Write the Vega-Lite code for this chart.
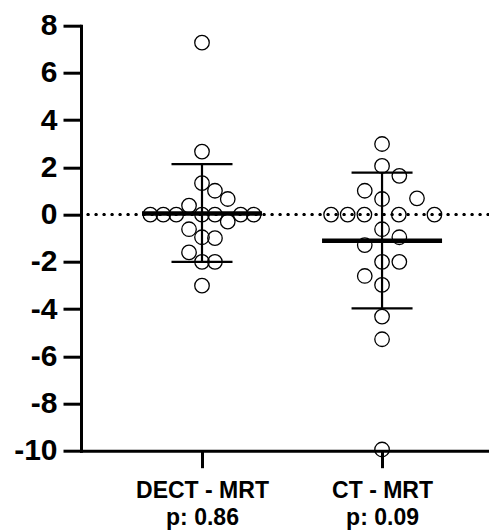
{
  "$schema": "https://vega.github.io/schema/vega-lite/v6.json",
  "width": 408,
  "height": 425,
  "autosize": "none",
  "padding": {"left": 81, "top": 25.7, "right": 0, "bottom": 79.3},
  "background": "white",
  "config": {
    "view": {"stroke": null},
    "axis": {
      "domainColor": "black",
      "domainWidth": 3,
      "domainCap": "square",
      "tickColor": "black",
      "tickWidth": 3,
      "labelColor": "black",
      "labelFont": "Liberation Sans",
      "labelFontWeight": "bold",
      "grid": false,
      "title": null
    }
  },
  "datasets": {
    "pts": [
      {"group": "DECT - MRT", "x": 1.0, "value": 7.28},
      {"group": "DECT - MRT", "x": 1.0, "value": 2.67},
      {"group": "DECT - MRT", "x": 1.0, "value": 1.33},
      {"group": "DECT - MRT", "x": 1.072, "value": 1.01},
      {"group": "DECT - MRT", "x": 1.143, "value": 0.66},
      {"group": "DECT - MRT", "x": 0.928, "value": 0.38},
      {"group": "DECT - MRT", "x": 0.713, "value": 0},
      {"group": "DECT - MRT", "x": 0.785, "value": 0},
      {"group": "DECT - MRT", "x": 0.857, "value": 0},
      {"group": "DECT - MRT", "x": 1.0, "value": 0},
      {"group": "DECT - MRT", "x": 1.072, "value": 0},
      {"group": "DECT - MRT", "x": 1.215, "value": 0},
      {"group": "DECT - MRT", "x": 1.287, "value": 0},
      {"group": "DECT - MRT", "x": 1.143, "value": -0.3},
      {"group": "DECT - MRT", "x": 0.928, "value": -0.62},
      {"group": "DECT - MRT", "x": 1.0, "value": -0.96},
      {"group": "DECT - MRT", "x": 1.072, "value": -1.0},
      {"group": "DECT - MRT", "x": 0.928, "value": -1.6},
      {"group": "DECT - MRT", "x": 1.0, "value": -2.0},
      {"group": "DECT - MRT", "x": 1.072, "value": -2.0},
      {"group": "DECT - MRT", "x": 1.0, "value": -3.01},
      {"group": "CT - MRT", "x": 2.0, "value": 2.99},
      {"group": "CT - MRT", "x": 2.0, "value": 2.06},
      {"group": "CT - MRT", "x": 2.096, "value": 1.64},
      {"group": "CT - MRT", "x": 1.904, "value": 1.01},
      {"group": "CT - MRT", "x": 2.194, "value": 0.69},
      {"group": "CT - MRT", "x": 2.0, "value": 0.66},
      {"group": "CT - MRT", "x": 1.717, "value": 0},
      {"group": "CT - MRT", "x": 1.809, "value": 0},
      {"group": "CT - MRT", "x": 1.902, "value": 0},
      {"group": "CT - MRT", "x": 2.093, "value": 0},
      {"group": "CT - MRT", "x": 2.291, "value": 0},
      {"group": "CT - MRT", "x": 2.0, "value": -0.62},
      {"group": "CT - MRT", "x": 2.096, "value": -0.96},
      {"group": "CT - MRT", "x": 1.904, "value": -1.29},
      {"group": "CT - MRT", "x": 2.0, "value": -2.0},
      {"group": "CT - MRT", "x": 2.096, "value": -2.0},
      {"group": "CT - MRT", "x": 1.904, "value": -2.6},
      {"group": "CT - MRT", "x": 2.0, "value": -2.98},
      {"group": "CT - MRT", "x": 2.0, "value": -4.32},
      {"group": "CT - MRT", "x": 2.0, "value": -5.28},
      {"group": "CT - MRT", "x": 2.0, "value": -9.95}
    ],
    "stats": [
      {"group": "DECT - MRT", "x": 1, "mean": 0.05, "lo": -2.0, "hi": 2.14},
      {"group": "CT - MRT", "x": 2, "mean": -1.11, "lo": -3.97, "hi": 1.78}
    ]
  },
  "layer": [
    {
      "data": {"name": "stats"},
      "mark": {"type": "rule", "color": "black", "strokeWidth": 3, "strokeDash": [0.1, 7.9], "strokeCap": "round"},
      "encoding": {
        "y": {"datum": 0, "type": "quantitative"},
        "x": {"datum": 0.367, "type": "quantitative"},
        "x2": {"datum": 2.594}
      }
    },
    {
      "data": {"name": "pts"},
      "mark": {"type": "point", "shape": "circle", "filled": false, "stroke": "black", "strokeWidth": 1.3, "size": 210, "opacity": 1},
      "encoding": {
        "x": {
          "field": "x",
          "type": "quantitative",
          "scale": {"domain": [0.328, 2.594], "nice": false, "zero": false},
          "axis": {
            "values": [1, 2],
            "labelExpr": "datum.value == 1 ? ['DECT - MRT', 'p: 0.86'] : ['CT - MRT', 'p: 0.09']",
            "labelFontSize": 23,
            "labelLineHeight": 27,
            "labelPadding": 12,
            "tickSize": 17,
            "labelFlush": false,
            "labelOverlap": false
          }
        },
        "y": {
          "field": "value",
          "type": "quantitative",
          "scale": {"domain": [-10, 8], "nice": false, "zero": false},
          "axis": {
            "values": [-10, -8, -6, -4, -2, 0, 2, 4, 6, 8],
            "labelExpr": "'' + datum.value",
            "labelFontSize": 30,
            "labelPadding": 6,
            "tickSize": 18
          }
        }
      }
    },
    {
      "data": {"name": "stats"},
      "mark": {"type": "rule", "color": "black", "strokeWidth": 2.2},
      "encoding": {
        "x": {"field": "x", "type": "quantitative"},
        "y": {"field": "lo", "type": "quantitative"},
        "y2": {"field": "hi"}
      }
    },
    {
      "data": {"name": "stats"},
      "mark": {"type": "tick", "orient": "horizontal", "color": "black", "size": 61, "thickness": 2.2, "opacity": 1},
      "encoding": {
        "x": {"field": "x", "type": "quantitative"},
        "y": {"field": "lo", "type": "quantitative"}
      }
    },
    {
      "data": {"name": "stats"},
      "mark": {"type": "tick", "orient": "horizontal", "color": "black", "size": 61, "thickness": 2.2, "opacity": 1},
      "encoding": {
        "x": {"field": "x", "type": "quantitative"},
        "y": {"field": "hi", "type": "quantitative"}
      }
    },
    {
      "data": {"name": "stats"},
      "mark": {"type": "tick", "orient": "horizontal", "color": "black", "size": 120, "thickness": 4.5, "opacity": 1},
      "encoding": {
        "x": {"field": "x", "type": "quantitative"},
        "y": {"field": "mean", "type": "quantitative"}
      }
    }
  ]
}
